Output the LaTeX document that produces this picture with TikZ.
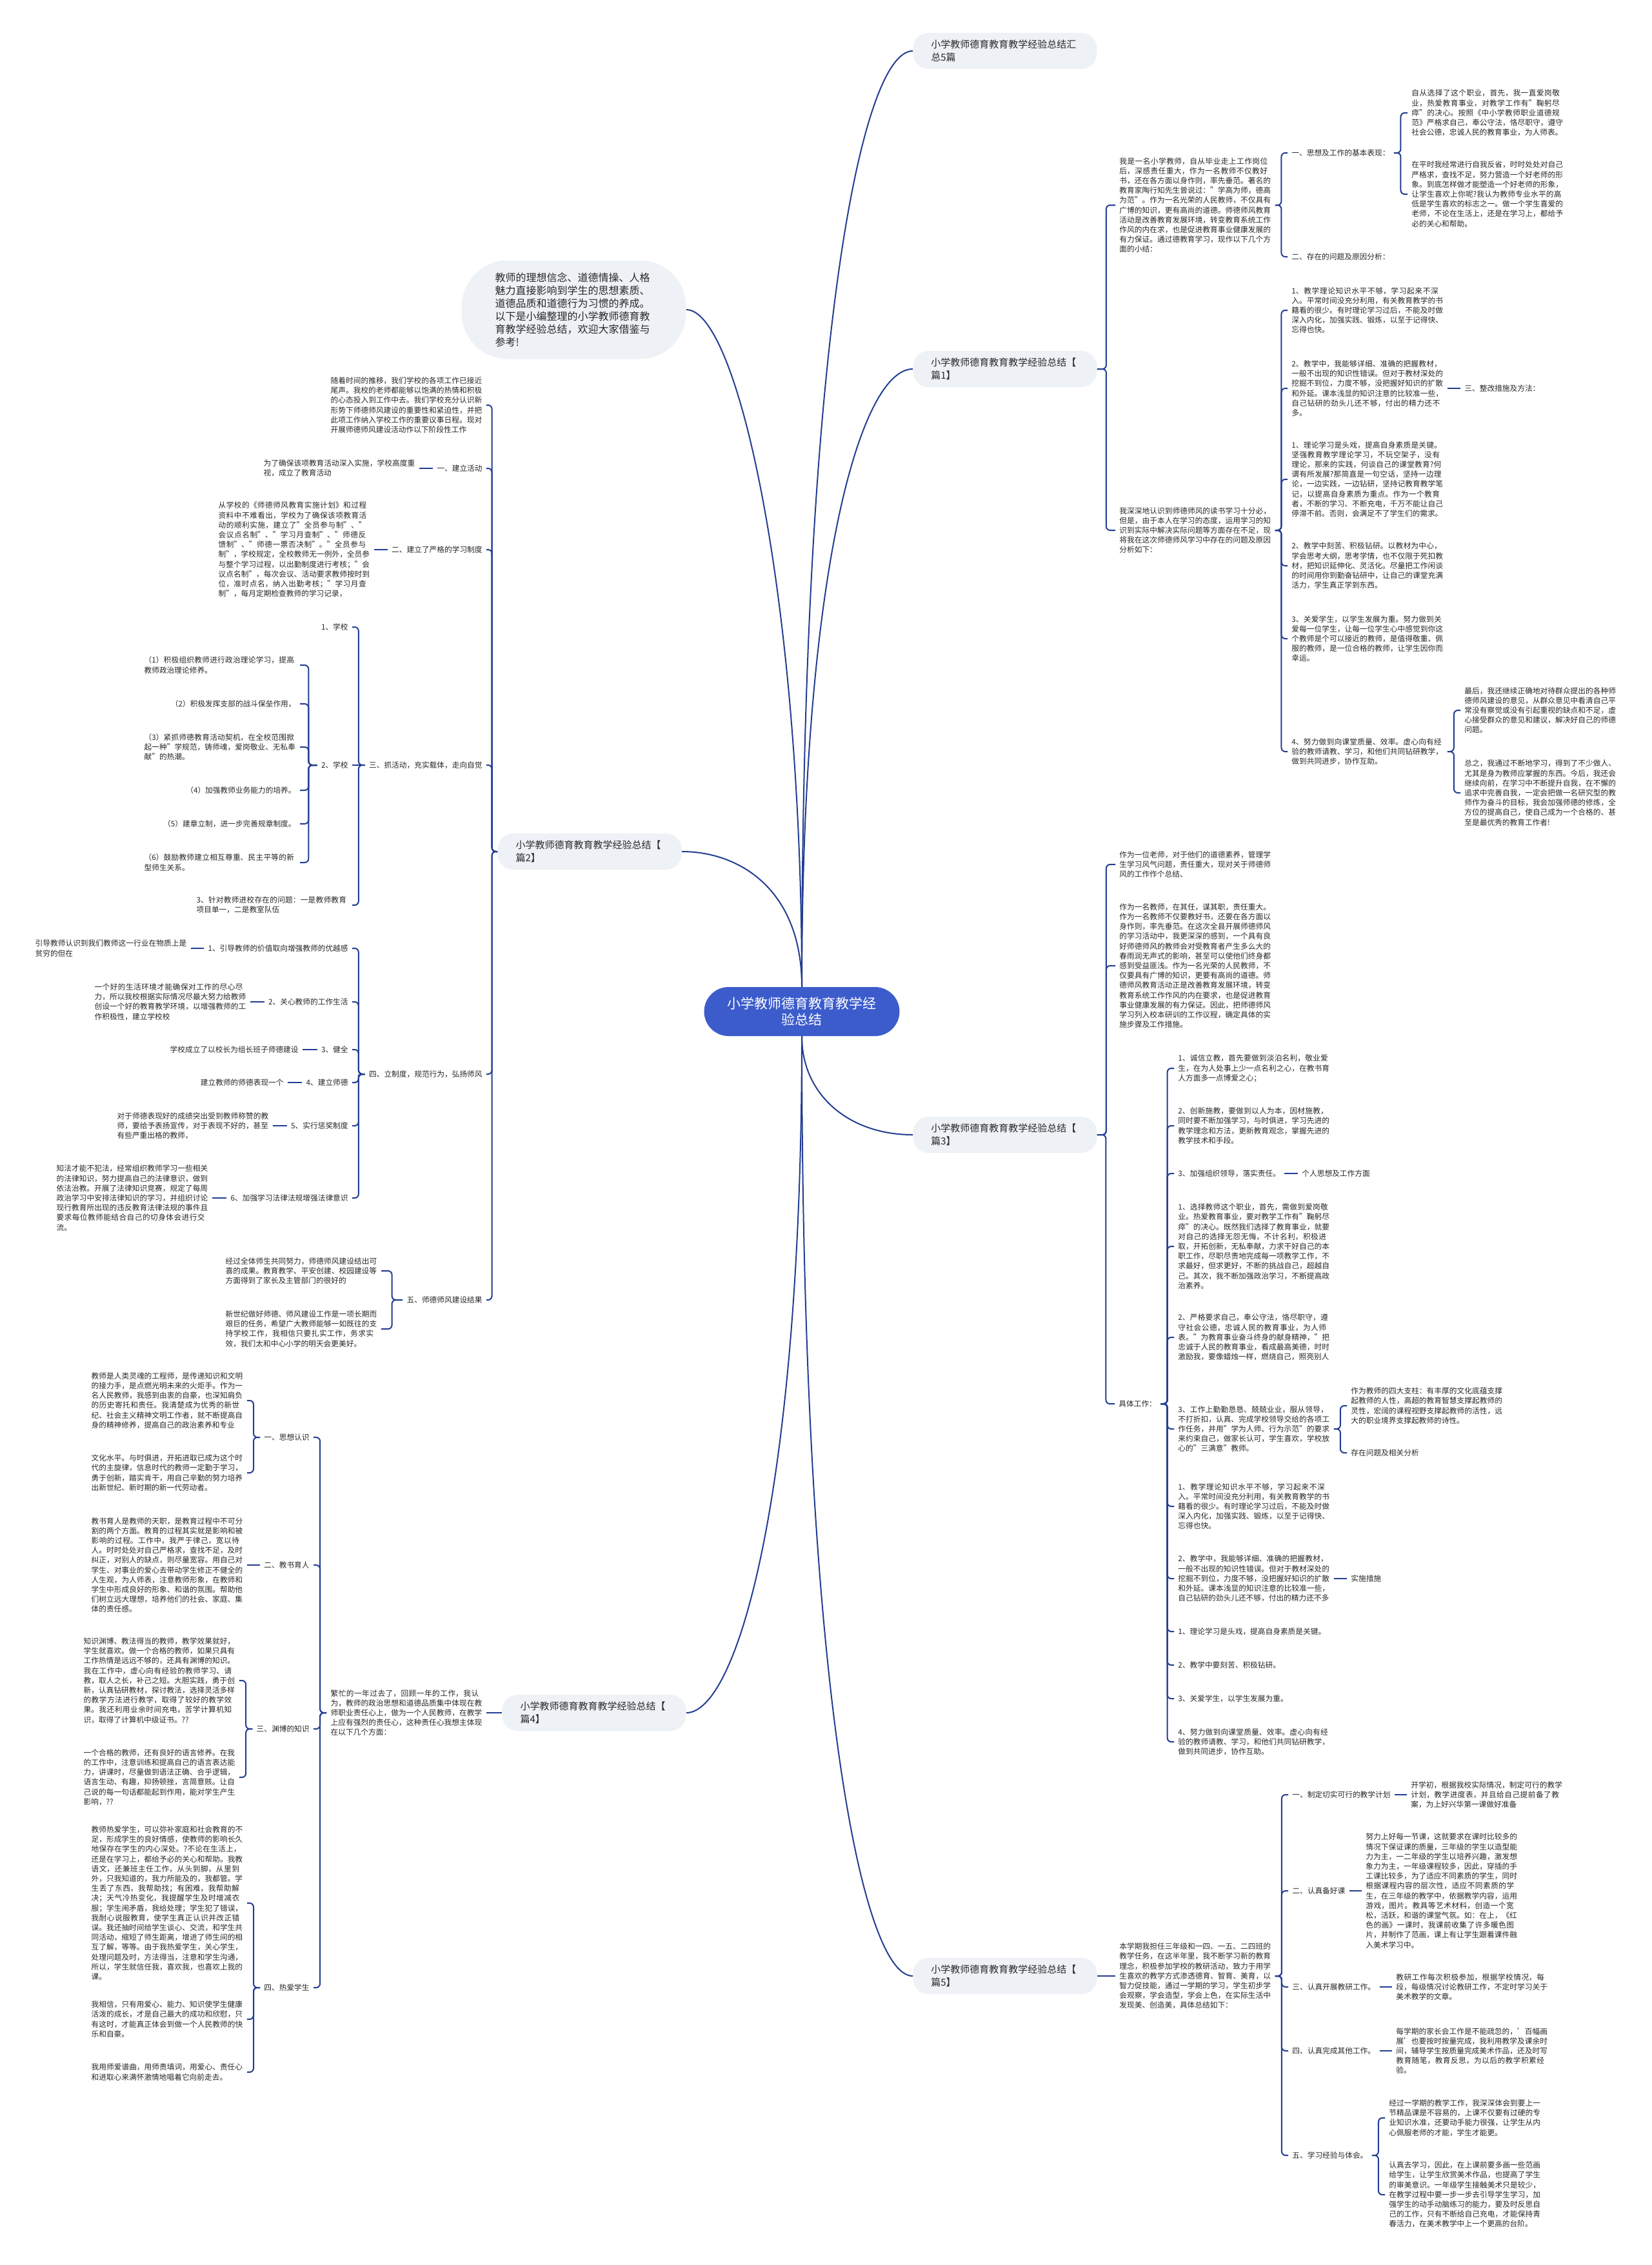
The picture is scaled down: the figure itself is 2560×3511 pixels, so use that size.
\documentclass[tikz,border=0pt]{standalone}
\usepackage{fontspec}
\setmainfont{Noto Sans CJK SC}
\XeTeXlinebreaklocale "zh"
\XeTeXlinebreakskip = 0pt plus 1pt
\usetikzlibrary{calc}

\definecolor{linkblue}{RGB}{35,62,145}
\definecolor{rootblue}{RGB}{60,92,204}
\definecolor{boxgray}{RGB}{238,241,245}
\definecolor{textgray}{RGB}{40,40,40}

\tikzset{
	txt/.style={font=\fontsize{5.85}{7.6}\selectfont, text=textgray, inner xsep=3pt, inner ysep=1pt, align=left},
	para/.style={txt, text width=117.5pt},
	topic/.style={fill=boxgray, rounded corners=12pt, font=\fontsize{7.5}{10}\selectfont, text=textgray, text width=114.5pt, inner xsep=14pt, minimum height=28pt, align=left},
	link/.style={draw=linkblue, line width=1pt, rounded corners=3pt},
	fork/.style={to path={-| ($(\tikztostart)!0.5!(\tikztotarget)$) |- (\tikztotarget)}}
}

\begin{document}
\begin{tikzpicture}[x=0.5pt,y=-0.5pt]
	\fill[white] (0,0) rectangle (2560,3511);
	\useasboundingbox (0,0) rectangle (2560,3511);

	%root and topics
	\node[fill=rootblue, text=white, rounded corners=19pt, minimum width=151.5pt, minimum height=38pt, font=\fontsize{10.5}{12.75}\selectfont, align=center] (root) at (1243,1568) {小学教师德育教育教学经\\验总结};
	\node[topic, anchor=west] (title) at (1415,79) {小学教师德育教育教学经验总结汇\\总5篇};
	\node[topic, anchor=west] (p1) at (1415,572) {小学教师德育教育教学经验总结【\\篇1】};
	\node[topic, anchor=west] (p3) at (1415,1759) {小学教师德育教育教学经验总结【\\篇3】};
	\node[topic, anchor=west] (p5) at (1415,3063) {小学教师德育教育教学经验总结【\\篇5】};
	\node[topic, anchor=east] (p2) at (1057,1320) {小学教师德育教育教学经验总结【\\篇2】};
	\node[topic, anchor=east] (p4) at (1064,2655) {小学教师德育教育教学经验总结【\\篇4】};
	\node[fill=boxgray, rounded corners=36pt, font=\fontsize{8}{10}\selectfont, text=textgray, text width=122pt, inner xsep=26pt, minimum height=76.5pt, align=left, anchor=east] (intro) at (1064,480) {教师的理想信念、道德情操、人格\\魅力直接影响到学生的思想素质、\\道德品质和道德行为习惯的养成。\\以下是小编整理的小学教师德育教\\育教学经验总结，欢迎大家借鉴与\\参考!};

	\draw[link] (root.north) .. controls +(0,-1000) and +(-80,0) .. (title.west);
	\draw[link] (root.north) .. controls +(0,-650) and +(-80,0) .. (p1.west);
	\draw[link] (root.north) .. controls +(0,-600) and +(80,0) .. (intro.east);
	\draw[link] (root.north) .. controls +(0,-150) and +(90,0) .. (p2.east);
	\draw[link] (root.south) .. controls +(0,90) and +(-100,0) .. (p3.west);
	\draw[link] (root.south) .. controls +(0,700) and +(80,0) .. (p4.east);
	\draw[link] (root.south) .. controls +(0,1000) and +(-80,0) .. (p5.west);

	%篇1
	\node[para, anchor=west] (p1a) at (1729,318) {我是一名小学教师，自从毕业走上工作岗位后，深感责任重大，作为一名教师不仅教好书，还在各方面以身作则，率先垂范。著名的教育家陶行知先生曾说过："学高为师，德高为范"。作为一名光荣的人民教师，不仅具有广博的知识，更有高尚的道德。师德师风教育活动是改善教育发展环境，转变教育系统工作作风的内在求，也是促进教育事业健康发展的有力保证。通过德教育学习，现作以下几个方面的小结：};
	\node[txt, anchor=west] (p1a1) at (1996,237) {一、思想及工作的基本表现：};
	\node[para, anchor=west] (p1a1a) at (2182,175) {自从选择了这个职业，首先，我一直爱岗敬业，热爱教育事业，对教学工作有"鞠躬尽瘁"的决心。按照《中小学教师职业道德规范》严格求自己，奉公守法，恪尽职守，遵守社会公德，忠诚人民的教育事业，为人师表。};
	\node[para, anchor=west] (p1a1b) at (2182,301) {在平时我经常进行自我反省，时时处处对自己严格求，查找不足，努力营造一个好老师的形象。到底怎样做才能塑造一个好老师的形象，让学生喜欢上你呢?我认为教师专业水平的高低是学生喜欢的标志之一。做一个学生喜爱的老师，不论在生活上，还是在学习上，都给予必的关心和帮助。};
	\node[txt, anchor=west] (p1a2) at (1996,398) {二、存在的问题及原因分析：};
	\node[para, anchor=west] (p1b) at (1729,822) {我深深地认识到师德师风的读书学习十分必，但是，由于本人在学习的态度，运用学习的知识到实际中解决实际问题等方面存在不足，现将我在这次师德师风学习中存在的问题及原因分析如下：};
	\node[para, anchor=west] (p1b1) at (1996,481) {1、教学理论知识水平不够，学习起来不深入。平常时间没充分利用，有关教育教学的书籍看的很少。有时理论学习过后，不能及时做深入内化，加强实践、锻炼，以至于记得快、忘得也快。};
	\node[para, anchor=west] (p1b2) at (1996,602) {2、教学中，我能够详细、准确的把握教材，一般不出现的知识性错误。但对于教材深处的挖掘不到位，力度不够，没把握好知识的扩散和外延。课本浅显的知识注意的比较准一些，自己钻研的劲头儿还不够，付出的精力还不多。};
	\node[txt, anchor=west] (p1b2a) at (2264,602) {三、整改措施及方法：};
	\node[para, anchor=west] (p1b3) at (1996,743) {1、理论学习是头戏，提高自身素质是关键。坚强教育教学理论学习，不玩空架子，没有理论，那来的实践，何谈自己的课堂教育?何谓有所发展?那简直是一句空话，坚持一边理论，一边实践，一边钻研，坚持记教育教学笔记，以提高自身素质为重点。作为一个教育者，不断的学习、不断充电，千万不能让自己停滞不前。否则，会满足不了学生们的需求。};
	\node[para, anchor=west] (p1b4) at (1996,877) {2、教学中刻苦、积极钻研。以教材为中心，学会思考大纲，思考学情，也不仅限于死扣教材，把知识延伸化、灵活化。尽量把工作闲谈的时间用你到勤奋钻研中，让自己的课堂充满活力，学生真正学到东西。};
	\node[para, anchor=west] (p1b5) at (1996,990) {3、关爱学生，以学生发展为重。努力做到关爱每一位学生，让每一位学生心中感觉到你这个教师是个可以接近的教师，是值得敬重、佩服的教师，是一位合格的教师，让学生因你而幸运。};
	\node[para, anchor=west] (p1b6) at (1996,1165) {4、努力做到向课堂质量、效率。虚心向有经验的教师请教、学习，和他们共同钻研教学，做到共同进步，协作互助。};
	\node[para, anchor=west] (p1b6a) at (2264,1101) {最后，我还继续正确地对待群众提出的各种师德师风建设的意见，从群众意见中看清自己平常没有察觉或没有引起重视的缺点和不足，虚心接受群众的意见和建议，解决好自己的师德问题。};
	\node[para, anchor=west] (p1b6b) at (2264,1229) {总之，我通过不断地学习，得到了不少做人、尤其是身为教师应掌握的东西。今后，我还会继续向前，在学习中不断提升自我，在不懈的追求中完善自我，一定会把做一名研究型的教师作为奋斗的目标，我会加强师德的修炼，全方位的提高自己，使自己成为一个合格的、甚至是最优秀的教育工作者!};

	\draw[link] (p1.east) to[fork] (p1a.west);
	\draw[link] (p1.east) to[fork] (p1b.west);
	\draw[link] (p1a.east) to[fork] (p1a1.west);
	\draw[link] (p1a.east) to[fork] (p1a2.west);
	\draw[link] (p1a1.east) to[fork] (p1a1a.west);
	\draw[link] (p1a1.east) to[fork] (p1a1b.west);
	\draw[link] (p1b.east) to[fork] (p1b1.west);
	\draw[link] (p1b.east) to[fork] (p1b2.west);
	\draw[link] (p1b.east) to[fork] (p1b3.west);
	\draw[link] (p1b.east) to[fork] (p1b4.west);
	\draw[link] (p1b.east) to[fork] (p1b5.west);
	\draw[link] (p1b.east) to[fork] (p1b6.west);
	\draw[link] (p1b2.east) -- (p1b2a.west);
	\draw[link] (p1b6.east) to[fork] (p1b6a.west);
	\draw[link] (p1b6.east) to[fork] (p1b6b.west);

	%篇3
	\node[para, anchor=west] (p3a) at (1729,1340) {作为一位老师，对于他们的道德素养，管理学生学习风气问题，责任重大，现对关于师德师风的工作作个总结、};
	\node[para, anchor=west] (p3b) at (1729,1497) {作为一名教师，在其任，谋其职，责任重大。作为一名教师不仅要教好书，还要在各方面以身作则，率先垂范。在这次全县开展师德师风的学习活动中，我更深深的感到，一个具有良好师德师风的教师会对受教育者产生多么大的春雨润无声式的影响，甚至可以使他们终身都感到受益匪浅。作为一名光荣的人民教师，不仅要具有广博的知识，更要有高尚的道德。师德师风教育活动正是改善教育发展环境，转变教育系统工作作风的内在要求，也是促进教育事业健康发展的有力保证。因此，把师德师风学习列入校本研训的工作议程，确定具体的实施步骤及工作措施。};
	\node[txt, anchor=west] (p3c) at (1728,2176) {具体工作：};
	\node[para, anchor=west] (p3c1) at (1820,1656) {1、诚信立教，首先要做到淡泊名利，敬业爱生，在为人处事上少一点名利之心，在教书育人方面多一点博爱之心；};
	\node[para, anchor=west] (p3c2) at (1820,1745) {2、创新施教，要做到以人为本，因材施教，同时要不断加强学习，与时俱进，学习先进的教学理念和方法，更新教育观念，掌握先进的教学技术和手段。};
	\node[txt, anchor=west] (p3c3) at (1820,1819) {3、加强组织领导，落实责任。};
	\node[txt, anchor=west] (p3c3a) at (2012,1819) {个人思想及工作方面};
	\node[para, anchor=west] (p3c4) at (1820,1932) {1、选择教师这个职业，首先，需做到爱岗敬业。热爱教育事业，要对教学工作有"鞠躬尽瘁"的决心。既然我们选择了教育事业，就要对自己的选择无怨无悔，不计名利，积极进取，开拓创新，无私奉献，力求干好自己的本职工作，尽职尽责地完成每一项教学工作，不求最好，但求更好，不断的挑战自己，超越自己。其次，我不断加强政治学习，不断提高政治素养。};
	\node[para, anchor=west] (p3c5) at (1820,2073) {2、严格要求自己，奉公守法，恪尽职守，遵守社会公德，忠诚人民的教育事业，为人师表。"为教育事业奋斗终身的献身精神，"把忠诚于人民的教育事业，看成最高美德，时时激励我，要像蜡烛一样，燃烧自己，照亮别人};
	\node[para, anchor=west] (p3c6) at (1820,2215) {3、工作上勤勤恳恳、兢兢业业，服从领导，不打折扣，认真、完成学校领导交给的各项工作任务，并用"学为人师、行为示范"的要求来约束自己，做家长认可，学生喜欢，学校放心的"三满意"教师。};
	\node[para, anchor=west] (p3c6a) at (2088,2179) {作为教师的四大支柱：有丰厚的文化底蕴支撑起教师的人性，高超的教育智慧支撑起教师的灵性，宏阔的课程视野支撑起教师的活性，远大的职业境界支撑起教师的诗性。};
	\node[txt, anchor=west] (p3c6b) at (2088,2252) {存在问题及相关分析};
	\node[para, anchor=west] (p3c7) at (1820,2335) {1、教学理论知识水平不够，学习起来不深入。平常时间没充分利用，有关教育教学的书籍看的很少。有时理论学习过后，不能及时做深入内化，加强实践、锻炼，以至于记得快、忘得也快。};
	\node[para, anchor=west] (p3c8) at (1820,2447) {2、教学中，我能够详细、准确的把握教材，一般不出现的知识性错误。但对于教材深处的挖掘不到位，力度不够，没把握好知识的扩散和外延。课本浅显的知识注意的比较准一些，自己钻研的劲头儿还不够，付出的精力还不多};
	\node[txt, anchor=west] (p3c8a) at (2088,2447) {实施措施};
	\node[txt, anchor=west] (p3c9) at (1820,2529) {1、理论学习是头戏，提高自身素质是关键。};
	\node[txt, anchor=west] (p3c10) at (1820,2581) {2、教学中要刻苦、积极钻研。};
	\node[txt, anchor=west] (p3c11) at (1820,2633) {3、关爱学生，以学生发展为重。};
	\node[para, anchor=west] (p3c12) at (1820,2700) {4、努力做到向课堂质量、效率。虚心向有经验的教师请教、学习，和他们共同钻研教学，做到共同进步，协作互助。};

	\draw[link] (p3.east) to[fork] (p3a.west);
	\draw[link] (p3.east) to[fork] (p3b.west);
	\draw[link] (p3.east) to[fork] (p3c.west);
	\draw[link] (p3c.east) to[fork] (p3c1.west);
	\draw[link] (p3c.east) to[fork] (p3c2.west);
	\draw[link] (p3c.east) to[fork] (p3c3.west);
	\draw[link] (p3c.east) to[fork] (p3c4.west);
	\draw[link] (p3c.east) to[fork] (p3c5.west);
	\draw[link] (p3c.east) to[fork] (p3c6.west);
	\draw[link] (p3c.east) to[fork] (p3c7.west);
	\draw[link] (p3c.east) to[fork] (p3c8.west);
	\draw[link] (p3c.east) to[fork] (p3c9.west);
	\draw[link] (p3c.east) to[fork] (p3c10.west);
	\draw[link] (p3c.east) to[fork] (p3c11.west);
	\draw[link] (p3c.east) to[fork] (p3c12.west);
	\draw[link] (p3c3.east) -- (p3c3a.west);
	\draw[link] (p3c6.east) to[fork] (p3c6a.west);
	\draw[link] (p3c6.east) to[fork] (p3c6b.west);
	\draw[link] (p3c8.east) -- (p3c8a.west);

	%篇5
	\node[para, anchor=west] (p5a) at (1729,3063) {本学期我担任三年级和一四、一五、二四班的教学任务，在这半年里，我不断学习新的教育理念，积极参加学校的教研活动，致力于用学生喜欢的教学方式渗透德育、智育、美育，以智力促技能，通过一学期的学习，学生初步学会观察，学会造型，学会上色，在实际生活中发现美、创造美，具体总结如下：};
	\node[txt, anchor=west] (p5a1) at (1997,2782) {一、制定切实可行的教学计划};
	\node[para, anchor=west] (p5a1a) at (2181,2782) {开学初，根据我校实际情况，制定可行的教学计划，教学进度表，并且给自己提前备了教案，为上好兴华第一课做好准备};
	\node[txt, anchor=west] (p5a2) at (1997,2931) {二、认真备好课};
	\node[para, anchor=west] (p5a2a) at (2111,2931) {努力上好每一节课，这就要求在课时比较多的情况下保证课的质量，三年级的学生以造型能力为主，一二年级的学生以培养兴趣，激发想象力为主，一年级课程较多，因此，穿插的手工课比较多，为了适应不同素质的学生，同时根据课程内容的层次性，适应不同素质的学生，在三年级的教学中，依据教学内容，运用游戏，图片。教具等艺术材料，创造一个宽松，活跃，和谐的课堂气氛。如：在上，《红色的画》一课时，我课前收集了许多暖色图片，并制作了范画，课上有让学生跟着课件融入美术学习中。};
	\node[txt, anchor=west] (p5a3) at (1997,3080) {三、认真开展教研工作。};
	\node[para, anchor=west] (p5a3a) at (2158,3080) {教研工作每次积极参加，根据学校情况，每段，每级情况讨论教研工作，不定时学习关于美术教学的文章。};
	\node[txt, anchor=west] (p5a4) at (1997,3179) {四、认真完成其他工作。};
	\node[para, anchor=west] (p5a4a) at (2158,3179) {每学期的家长会工作是不能疏忽的，'百幅画展'也要按时按量完成，我利用教学及课余时间，辅导学生按质量完成美术作品，还及时写教育随笔，教育反思，为以后的教学积累经验。};
	\node[txt, anchor=west] (p5a5) at (1997,3341) {五、学习经验与体会。};
	\node[para, anchor=west] (p5a5a) at (2147,3283) {经过一学期的教学工作，我深深体会到要上一节精品课是不容易的，上课不仅要有过硬的专业知识水准，还要动手能力很强，让学生从内心佩服老师的才能，学生才能更。};
	\node[para, anchor=west] (p5a5b) at (2147,3402) {认真去学习，因此，在上课前要多画一些范画给学生，让学生欣赏美术作品，也提高了学生的审美意识。一年级学生接触美术只是较少，在教学过程中要一步一步去引导学生学习，加强学生的动手动脑练习的能力，要及时反思自己的工作，只有不断给自己充电，才能保持青春活力，在美术教学中上一个更高的台阶。};

	\draw[link] (p5.east) -- (p5a.west);
	\draw[link] (p5a.east) to[fork] (p5a1.west);
	\draw[link] (p5a.east) to[fork] (p5a2.west);
	\draw[link] (p5a.east) to[fork] (p5a3.west);
	\draw[link] (p5a.east) to[fork] (p5a4.west);
	\draw[link] (p5a.east) to[fork] (p5a5.west);
	\draw[link] (p5a1.east) -- (p5a1a.west);
	\draw[link] (p5a2.east) -- (p5a2a.west);
	\draw[link] (p5a3.east) -- (p5a3a.west);
	\draw[link] (p5a4.east) -- (p5a4a.west);
	\draw[link] (p5a5.east) to[fork] (p5a5a.west);
	\draw[link] (p5a5.east) to[fork] (p5a5b.west);

	%篇2
	\node[para, anchor=east] (p2a) at (754,628) {随着时间的推移，我们学校的各项工作已接近尾声。我校的老师都能够以饱满的热情和积极的心态投入到工作中去。我们学校充分认识新形势下师德师风建设的重要性和紧迫性，并把此项工作纳入学校工作的重要议事日程。现对开展师德师风建设活动作以下阶段性工作};
	\node[txt, anchor=east] (p2b) at (754,726) {一、建立活动};
	\node[para, anchor=east] (p2b1) at (650,726) {为了确保该项教育活动深入实施，学校高度重视，成立了教育活动};
	\node[txt, anchor=east] (p2c) at (754,852) {二、建立了严格的学习制度};
	\node[para, anchor=east] (p2c1) at (580,852) {从学校的《师德师风教育实施计划》和过程资料中不难看出，学校为了确保该项教育活动的顺利实施，建立了"全员参与制"、"会议点名制"、"学习月查制"、"师德反馈制"、"师德一票否决制"。"全员参与制"，学校规定，全校教师无一例外，全员参与整个学习过程，以出勤制度进行考核；"会议点名制"，每次会议、活动要求教师按时到位，准时点名，纳入出勤考核；"学习月查制"，每月定期检查教师的学习记录，};
	\node[txt, anchor=east] (p2d) at (754,1186) {三、抓活动，充实载体，走向自觉};
	\node[txt, anchor=east] (p2d1) at (546,972) {1、学校};
	\node[txt, anchor=east] (p2d2) at (546,1186) {2、学校};
	\node[para, anchor=east] (p2d2a) at (465,1031) {（1）积极组织教师进行政治理论学习，提高教师政治理论修养。};
	\node[txt, anchor=east] (p2d2b) at (465,1091) {（2）积极发挥支部的战斗保垒作用，};
	\node[para, anchor=east] (p2d2c) at (465,1158) {（3）紧抓师德教育活动契机，在全校范围掀起一种"学规范，铸师魂，爱岗敬业、无私奉献"的热潮。};
	\node[txt, anchor=east] (p2d2d) at (465,1225) {（4）加强教师业务能力的培养。};
	\node[txt, anchor=east] (p2d2e) at (465,1277) {（5）建章立制，进一步完善规章制度。};
	\node[para, anchor=east] (p2d2f) at (465,1337) {（6）鼓励教师建立相互尊重、民主平等的新型师生关系。};
	\node[para, anchor=east] (p2d3) at (546,1403) {3、针对教师进校存在的问题：一是教师教育项目单一，二是教室队伍};
	\node[txt, anchor=east] (p2e) at (754,1665) {四、立制度，规范行为，弘扬师风};
	\node[txt, anchor=east] (p2e1) at (546,1470) {1、引导教师的价值取向增强教师的优越感};
	\node[para, anchor=east] (p2e1a) at (296,1470) {引导教师认识到我们教师这一行业在物质上是贫穷的但在};
	\node[txt, anchor=east] (p2e2) at (546,1553) {2、关心教师的工作生活};
	\node[para, anchor=east] (p2e2a) at (388,1553) {一个好的生活环境才能确保对工作的尽心尽力，所以我校根据实际情况尽最大努力给教师创设一个好的教育教学环境，以增强教师的工作积极性，建立学校校};
	\node[txt, anchor=east] (p2e3) at (546,1627) {3、健全};
	\node[txt, anchor=east] (p2e3a) at (469,1627) {学校成立了以校长为组长班子师德建设};
	\node[txt, anchor=east] (p2e4) at (546,1678) {4、建立师德};
	\node[txt, anchor=east] (p2e4a) at (446,1678) {建立教师的师德表现一个};
	\node[txt, anchor=east] (p2e5) at (546,1745) {5、实行惩奖制度};
	\node[para, anchor=east] (p2e5a) at (423,1745) {对于师德表现好的成绩突出受到教师称赞的教师，要给予表扬宣传，对于表现不好的，甚至有些严重出格的教师，};
	\node[txt, anchor=east] (p2e6) at (546,1857) {6、加强学习法律法规增强法律意识};
	\node[para, anchor=east] (p2e6a) at (329,1857) {知法才能不犯法，经常组织教师学习一些相关的法律知识，努力提高自己的法律意识，做到依法治教。开展了法律知识竞赛，规定了每周政治学习中安排法律知识的学习，并组织讨论现行教育所出现的违反教育法律法规的事件且要求每位教师能结合自己的切身体会进行交流。};
	\node[txt, anchor=east] (p2f) at (754,2015) {五、师德师风建设结果};
	\node[para, anchor=east] (p2f1) at (591,1970) {经过全体师生共同努力，师德师风建设结出可喜的成果。教育教学、平安创建、校园建设等方面得到了家长及主管部门的很好的};
	\node[para, anchor=east] (p2f2) at (591,2060) {新世纪做好师德、师风建设工作是一项长期而艰巨的任务，希望广大教师能够一如既往的支持学校工作，我相信只要扎实工作，务求实效，我们太和中心小学的明天会更美好。};

	\draw[link] (p2.west) to[fork] (p2a.east);
	\draw[link] (p2.west) to[fork] (p2b.east);
	\draw[link] (p2.west) to[fork] (p2c.east);
	\draw[link] (p2.west) to[fork] (p2d.east);
	\draw[link] (p2.west) to[fork] (p2e.east);
	\draw[link] (p2.west) to[fork] (p2f.east);
	\draw[link] (p2b.west) -- (p2b1.east);
	\draw[link] (p2c.west) -- (p2c1.east);
	\draw[link] (p2d.west) to[fork] (p2d1.east);
	\draw[link] (p2d.west) -- (p2d2.east);
	\draw[link] (p2d.west) to[fork] (p2d3.east);
	\draw[link] (p2d2.west) to[fork] (p2d2a.east);
	\draw[link] (p2d2.west) to[fork] (p2d2b.east);
	\draw[link] (p2d2.west) to[fork] (p2d2c.east);
	\draw[link] (p2d2.west) to[fork] (p2d2d.east);
	\draw[link] (p2d2.west) to[fork] (p2d2e.east);
	\draw[link] (p2d2.west) to[fork] (p2d2f.east);
	\draw[link] (p2e.west) to[fork] (p2e1.east);
	\draw[link] (p2e.west) to[fork] (p2e2.east);
	\draw[link] (p2e.west) to[fork] (p2e3.east);
	\draw[link] (p2e.west) to[fork] (p2e4.east);
	\draw[link] (p2e.west) to[fork] (p2e5.east);
	\draw[link] (p2e.west) to[fork] (p2e6.east);
	\draw[link] (p2e1.west) -- (p2e1a.east);
	\draw[link] (p2e2.west) -- (p2e2a.east);
	\draw[link] (p2e3.west) -- (p2e3a.east);
	\draw[link] (p2e4.west) -- (p2e4a.east);
	\draw[link] (p2e5.west) -- (p2e5a.east);
	\draw[link] (p2e6.west) -- (p2e6a.east);
	\draw[link] (p2f.west) to[fork] (p2f1.east);
	\draw[link] (p2f.west) to[fork] (p2f2.east);

	%篇4
	\node[para, anchor=east] (p4a) at (754,2655) {繁忙的一年过去了，回顾一年的工作，我认为，教师的政治思想和道德品质集中体现在教师职业责任心上，做为一个人民教师，在教学上应有强烈的责任心，这种责任心我想主体现在以下几个方面：};
	\node[txt, anchor=east] (p4a1) at (486,2228) {一、思想认识};
	\node[para, anchor=east] (p4a1a) at (383,2171) {教师是人类灵魂的工程师，是传递知识和文明的接力手，是点燃光明未来的火炬手。作为一名人民教师，我感到由衷的自豪，也深知肩负的历史寄托和责任。我清楚成为优秀的新世纪、社会主义精神文明工作者，就不断提高自身的精神修养，提高自己的政治素养和专业};
	\node[para, anchor=east] (p4a1b) at (383,2283) {文化水平。与时俱进，开拓进取已成为这个时代的主旋律，信息时代的教师一定勤于学习，勇于创新，踏实肯干，用自己辛勤的努力培养出新世纪、新时期的新一代劳动者。};
	\node[txt, anchor=east] (p4a2) at (486,2426) {二、教书育人};
	\node[para, anchor=east] (p4a2a) at (383,2426) {教书育人是教师的天职，是教育过程中不可分割的两个方面。教育的过程其实就是影响和被影响的过程。工作中，我严于律己，宽以待人。时时处处对自己严格求，查找不足，及时纠正，对别人的缺点，则尽量宽容。用自己对学生、对事业的爱心去带动学生修正不健全的人生观，为人师表，注意教师形象，在教师和学生中形成良好的形象、和谐的氛围。帮助他们树立远大理想，培养他们的社会、家庭、集体的责任感。};
	\node[txt, anchor=east] (p4a3) at (486,2680) {三、渊博的知识};
	\node[para, anchor=east] (p4a3a) at (371,2605) {知识渊博、教法得当的教师，教学效果就好，学生就喜欢。做一个合格的教师，如果只具有工作热情是远远不够的，还具有渊博的知识。我在工作中，虚心向有经验的教师学习、请教，取人之长，补己之短。大胆实践，勇于创新，认真钻研教材，探讨教法，选择灵活多样的教学方法进行教学，取得了较好的教学效果。我还利用业余时间充电，苦学计算机知识，取得了计算机中级证书。??};
	\node[para, anchor=east] (p4a3b) at (371,2755) {一个合格的教师，还有良好的语言修养。在我的工作中，注意训练和提高自己的语言表达能力，讲课时，尽量做到语法正确、合乎逻辑，语言生动、有趣，抑扬顿挫，言简意赅。让自己说的每一句话都能起到作用，能对学生产生影响，??};
	\node[txt, anchor=east] (p4a4) at (486,3081) {四、热爱学生};
	\node[para, anchor=east] (p4a4a) at (383,2950) {教师热爱学生，可以弥补家庭和社会教育的不足，形成学生的良好情感，使教师的影响长久地保存在学生的内心深处。?不论在生活上，还是在学习上，都给予必的关心和帮助。我教语文，还兼班主任工作，从头到脚，从里到外，只我知道的，我力所能及的，我都管。学生丢了东西，我帮助找；有困难，我帮助解决；天气冷热变化，我提醒学生及时增减衣服；学生闹矛盾，我给处理；学生犯了错误，我耐心说服教育，使学生真正认识并改正错误。我还抽时间给学生谈心、交流，和学生共同活动，缩短了师生距离，增进了师生间的相互了解，等等。由于我热爱学生，关心学生，处理问题及时，方法得当，注意和学生沟通，所以，学生就信任我，喜欢我，也喜欢上我的课。};
	\node[para, anchor=east] (p4a4b) at (383,3130) {我相信，只有用爱心、能力、知识使学生健康活泼的成长，才是自己最大的成功和欣慰，只有这时，才能真正体会到做一个人民教师的快乐和自豪。};
	\node[para, anchor=east] (p4a4c) at (383,3212) {我用师爱谱曲，用师责填词，用爱心、责任心和进取心来满怀激情地唱着它向前走去。};

	\draw[link] (p4.west) -- (p4a.east);
	\draw[link] (p4a.west) to[fork] (p4a1.east);
	\draw[link] (p4a.west) to[fork] (p4a2.east);
	\draw[link] (p4a.west) to[fork] (p4a3.east);
	\draw[link] (p4a.west) to[fork] (p4a4.east);
	\draw[link] (p4a1.west) to[fork] (p4a1a.east);
	\draw[link] (p4a1.west) to[fork] (p4a1b.east);
	\draw[link] (p4a2.west) -- (p4a2a.east);
	\draw[link] (p4a3.west) to[fork] (p4a3a.east);
	\draw[link] (p4a3.west) to[fork] (p4a3b.east);
	\draw[link] (p4a4.west) to[fork] (p4a4a.east);
	\draw[link] (p4a4.west) to[fork] (p4a4b.east);
	\draw[link] (p4a4.west) to[fork] (p4a4c.east);
\end{tikzpicture}
\end{document}
